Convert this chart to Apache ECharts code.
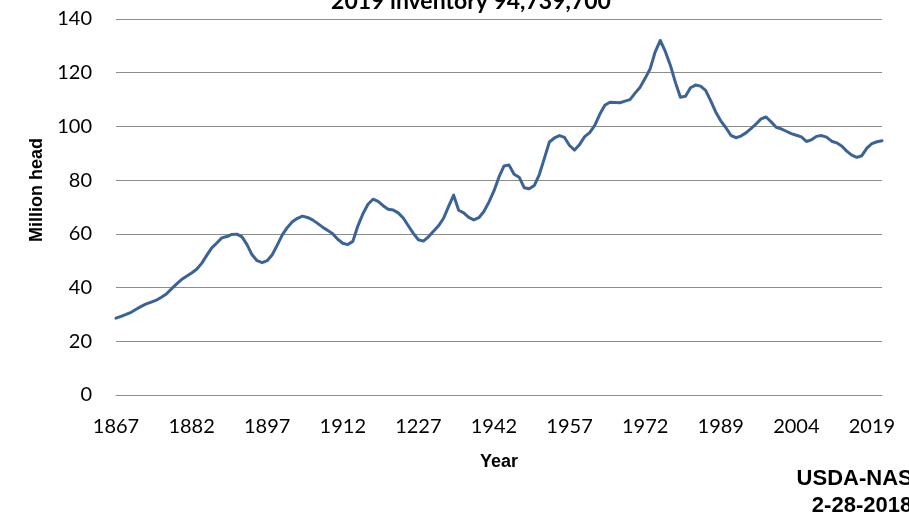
<!DOCTYPE html>
<html>
<head>
<meta charset="utf-8">
<script src="https://cdn.jsdelivr.net/npm/echarts@6/dist/echarts.min.js"></script>
<style>
  html, body { margin: 0; padding: 0; background: #fff; }
  #chart { width: 909px; height: 520px; }
</style>
</head>
<body>
<div id="chart"></div>
<script>
// 年份(1867-2019)
const years = [
  1867, 1868, 1869,
  1870, 1871, 1872, 1873, 1874, 1875, 1876, 1877, 1878, 1879,
  1880, 1881, 1882, 1883, 1884, 1885, 1886, 1887, 1888, 1889,
  1890, 1891, 1892, 1893, 1894, 1895, 1896, 1897, 1898, 1899,
  1900, 1901, 1902, 1903, 1904, 1905, 1906, 1907, 1908, 1909,
  1910, 1911, 1912, 1913, 1914, 1915, 1916, 1917, 1918, 1919,
  1920, 1921, 1922, 1923, 1924, 1925, 1926, 1927, 1928, 1929,
  1930, 1931, 1932, 1933, 1934, 1935, 1936, 1937, 1938, 1939,
  1940, 1941, 1942, 1943, 1944, 1945, 1946, 1947, 1948, 1949,
  1950, 1951, 1952, 1953, 1954, 1955, 1956, 1957, 1958, 1959,
  1960, 1961, 1962, 1963, 1964, 1965, 1966, 1967, 1968, 1969,
  1970, 1971, 1972, 1973, 1974, 1975, 1976, 1977, 1978, 1979,
  1980, 1981, 1982, 1983, 1984, 1985, 1986, 1987, 1988, 1989,
  1990, 1991, 1992, 1993, 1994, 1995, 1996, 1997, 1998, 1999,
  2000, 2001, 2002, 2003, 2004, 2005, 2006, 2007, 2008, 2009,
  2010, 2011, 2012, 2013, 2014, 2015, 2016, 2017, 2018, 2019
];

// 存栏量(百万头)
const inventory = [
  28.6, 29.3, 30.0,
  30.8, 31.9, 33.0, 33.9, 34.6, 35.3, 36.4, 37.6, 39.5, 41.3,
  43.0, 44.2, 45.4, 46.8, 49.0, 52.0, 54.8, 56.6, 58.5, 59.0,
  59.8, 59.9, 58.9, 56.0, 52.2, 50.0, 49.3, 50.0, 52.2, 55.8,
  59.6, 62.4, 64.5, 65.8, 66.6, 66.1, 65.2, 63.9, 62.5, 61.3,
  60.0, 58.0, 56.5, 56.0, 57.2, 63.0, 67.5, 71.0, 72.9, 72.1,
  70.5, 69.2, 68.9, 67.8, 65.9, 63.0, 60.2, 57.8, 57.3, 58.9,
  61.0, 63.0, 65.8, 70.2, 74.4, 68.8, 67.8, 66.1, 65.2, 66.0,
  68.3, 71.8, 76.0, 81.2, 85.3, 85.6, 82.2, 81.1, 77.2, 76.8,
  78.0, 82.1, 88.1, 94.2, 95.7, 96.6, 95.9, 92.9, 91.2, 93.3,
  96.2, 97.7, 100.4, 104.5, 107.9, 109.0, 108.9, 108.8, 109.4, 110.0,
  112.4, 114.6, 117.9, 121.5, 127.8, 132.0, 127.9, 122.8, 116.4, 110.9,
  111.2, 114.4, 115.4, 115.0, 113.4, 109.6, 105.4, 102.1, 99.6, 96.7,
  95.8, 96.4, 97.6, 99.2, 100.9, 102.8, 103.5, 101.7, 99.7, 99.1,
  98.2, 97.3, 96.7, 96.1, 94.4, 95.0, 96.3, 96.6, 96.0, 94.5,
  93.9, 92.7, 90.8, 89.3, 88.5, 89.1, 91.9, 93.6, 94.3, 94.7
];

// 横轴刻度文字(原图如此)
const tickLabels = ['1867', '1882', '1897', '1912', '1227', '1942', '1957', '1972', '1989', '2004', '2019'];
const yTicks = [0, 20, 40, 60, 80, 100, 120, 140];

const gridColor = '#8c8c8c';
const labelFont = { fontFamily: 'Lato', fontSize: 20, color: '#000' };

const option = {
  animation: false,
  backgroundColor: '#fff',
  title: {
    text: '2019 inventory 94,739,700',
    left: 466,
    textAlign: 'center',
    top: -15,
    textStyle: { fontFamily: 'Lato', fontWeight: 'bold', fontSize: 23, color: '#000' }
  },
  grid: { left: 116, right: 27, top: 19, bottom: 125, containLabel: false, outerBoundsMode: 'none' },
  xAxis: {
    type: 'category',
    data: years.map(String),
    boundaryGap: false,
    name: 'Year',
    nameLocation: 'middle',
    nameGap: 58,
    nameTextStyle: { fontFamily: 'Liberation Sans', fontWeight: 'bold', fontSize: 18, color: '#000' },
    axisLine: { show: true, lineStyle: { color: gridColor, width: 1 } },
    axisTick: { show: false },
    axisLabel: {
      interval: 14,
      margin: 22,
      ...labelFont,
      formatter: (v, i) => tickLabels[Math.round(i / 15)] || ''
    },
    splitLine: { show: false }
  },
  yAxis: {
    type: 'value',
    min: yTicks[0],
    max: yTicks[yTicks.length - 1],
    interval: 20,
    name: 'Million head',
    nameLocation: 'middle',
    nameGap: 70,
    nameTextStyle: { fontFamily: 'Liberation Sans', fontWeight: 'bold', fontSize: 18, color: '#000', padding: [0, 0, 0, 34] },
    axisLine: { show: false },
    axisTick: { show: false },
    axisLabel: { margin: 24, ...labelFont },
    splitLine: { show: true, lineStyle: { color: gridColor, width: 1 } }
  },
  graphic: [
    {
      type: 'text', x: 862, y: 468,
      style: { text: 'USDA-NASS', font: 'bold 22px "Liberation Sans"', fill: '#000', align: 'center' }
    },
    {
      type: 'text', x: 862, y: 495,
      style: { text: '2-28-2018', font: 'bold 22px "Liberation Sans"', fill: '#000', align: 'center' }
    }
  ],
  series: [{
    type: 'line',
    data: inventory,
    showSymbol: false,
    smooth: false,
    lineStyle: { color: '#3b6396', width: 3, join: 'round', cap: 'round' },
    itemStyle: { color: '#3b6396' }
  }]
};

const chart = echarts.init(document.getElementById('chart'));
chart.setOption(option);
</script>
</body>
</html>
